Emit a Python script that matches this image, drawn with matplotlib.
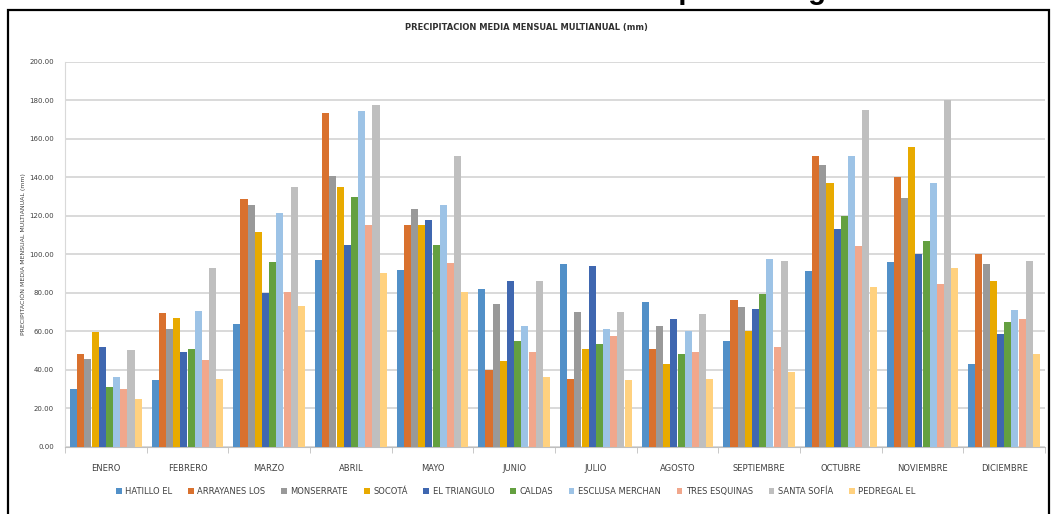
import matplotlib
matplotlib.use('Agg')
import matplotlib.pyplot as plt
from matplotlib.patches import Rectangle
import numpy as np

MONTHS = ['ENERO', 'FEBRERO', 'MARZO', 'ABRIL', 'MAYO', 'JUNIO', 'JULIO',
          'AGOSTO', 'SEPTIEMBRE', 'OCTUBRE', 'NOVIEMBRE', 'DICIEMBRE']

# mean monthly precipitation (mm) per station
HATILLO_EL      = [30.0, 34.8, 64.1, 97.1, 91.9, 82.1, 95.3, 75.5, 55.3, 91.6, 95.9, 43.1]
ARRAYANES_LOS   = [48.1, 69.4, 128.7, 173.3, 115.5, 39.8, 35.3, 50.9, 76.4, 151.4, 140.5, 100.5]
MONSERRATE      = [45.5, 61.5, 125.9, 141.0, 123.5, 74.3, 70.0, 62.6, 72.9, 146.6, 129.3, 95.0]
SOCOTA          = [59.9, 66.8, 111.9, 135.2, 115.5, 44.8, 50.9, 43.1, 60.0, 137.2, 155.7, 86.4]
EL_TRIANGULO    = [52.1, 49.4, 80.2, 104.9, 117.9, 86.2, 94.0, 66.6, 71.7, 113.4, 100.5, 58.6]
CALDAS          = [31.2, 51.1, 96.1, 129.9, 104.9, 54.8, 53.4, 48.3, 79.5, 120.0, 107.1, 64.7]
ESCLUSA_MERCHAN = [36.5, 70.5, 121.7, 174.5, 125.9, 62.6, 61.2, 60.0, 97.6, 151.4, 137.2, 70.9]
TRES_ESQUINAS   = [30.3, 45.0, 80.5, 115.5, 95.8, 49.1, 57.4, 49.1, 51.9, 104.5, 84.7, 66.4]
SANTA_SOFIA     = [50.4, 93.2, 135.2, 177.5, 151.3, 86.2, 70.0, 69.0, 96.6, 175.0, 180.2, 96.6]
PEDREGAL_EL     = [25.1, 35.2, 73.2, 90.2, 80.7, 36.2, 35.0, 35.5, 39.0, 83.3, 92.8, 48.3]

SERIES = [
    ('HATILLO EL',      HATILLO_EL,      '#5290C8'),
    ('ARRAYANES LOS',   ARRAYANES_LOS,   '#D9712E'),
    ('MONSERRATE',      MONSERRATE,      '#999999'),
    ('SOCOTÁ',          SOCOTA,          '#E8AA00'),
    ('EL TRIANGULO',    EL_TRIANGULO,    '#3F67B0'),
    ('CALDAS',          CALDAS,          '#64A040'),
    ('ESCLUSA MERCHAN', ESCLUSA_MERCHAN, '#9DC3E6'),
    ('TRES ESQUINAS',   TRES_ESQUINAS,   '#F1A78C'),
    ('SANTA SOFÍA',     SANTA_SOFIA,     '#BFBFBF'),
    ('PEDREGAL EL',     PEDREGAL_EL,     '#FFD17F'),
]

YTICKS = np.arange(0, 201, 20)

fig = plt.figure(figsize=(10.52, 5.14), dpi=100)
ax = fig.add_axes([0.0618, 0.1304, 0.9315, 0.749])

n = len(SERIES)
group_w = 0.88
bar_w = group_w / n
x = np.arange(len(MONTHS))
for i, (name, vals, color) in enumerate(SERIES):
    ax.bar(x - group_w / 2 + (i + 0.5) * bar_w, vals, width=bar_w * 0.98,
           color=color, label=name, zorder=3)

ax.set_xlim(-0.5, len(MONTHS) - 0.5)
ax.set_ylim(0, 200)
ax.set_yticks(YTICKS)
ax.set_yticklabels([f'{v:.2f}' for v in YTICKS], fontsize=5, color='#404040')
ax.yaxis.grid(True, color='#D9D9D9', linewidth=1.4, zorder=0)
ax.tick_params(axis='y', length=0, pad=8)

ax.set_xticks(x)
ax.set_xticklabels(MONTHS, fontsize=6, color='#404040')
ax.set_xticks(np.arange(-0.5, len(MONTHS)), minor=True)
ax.tick_params(axis='x', which='major', length=0, pad=12)
ax.tick_params(axis='x', which='minor', length=4, color='#BFBFBF')

for s in ['top', 'right']:
    ax.spines[s].set_visible(False)
ax.spines['left'].set_color('#D9D9D9')
ax.spines['bottom'].set_color('#BFBFBF')

ax.set_ylabel('PRECIPITACIÓN MEDIA MENSUAL MULTIANUAL (mm)', fontsize=4.5,
              color='#404040', labelpad=2)

fig.text(0.5, 0.946, 'PRECIPITACION MEDIA MENSUAL MULTIANUAL (mm)', ha='center',
         va='center', fontsize=6, color='#303030', fontweight='bold')

# figure caption, mostly cut off by the top edge of the picture
fig.text(0.508, 1 + 1 / 514, 'Gráfica 4.5 - Estaciones utilizadas para la región',
         ha='center', va='baseline', fontsize=21, fontweight='bold', color='black',
         family='Liberation Sans')

# frame around the chart
fig.patches.append(Rectangle((8 / 1052, -0.05), 1041 / 1052, 1.05 - 10 / 514,
                             transform=fig.transFigure, fill=False,
                             edgecolor='black', linewidth=1.6, zorder=10))

ax.legend(loc='upper center', bbox_to_anchor=(0.46, -0.085), ncol=10, frameon=False,
          fontsize=6, handlelength=0.7, handleheight=0.7, handletextpad=0.4,
          columnspacing=1.9, labelcolor='#404040')

plt.savefig('out.png', dpi=100)
plt.close()
